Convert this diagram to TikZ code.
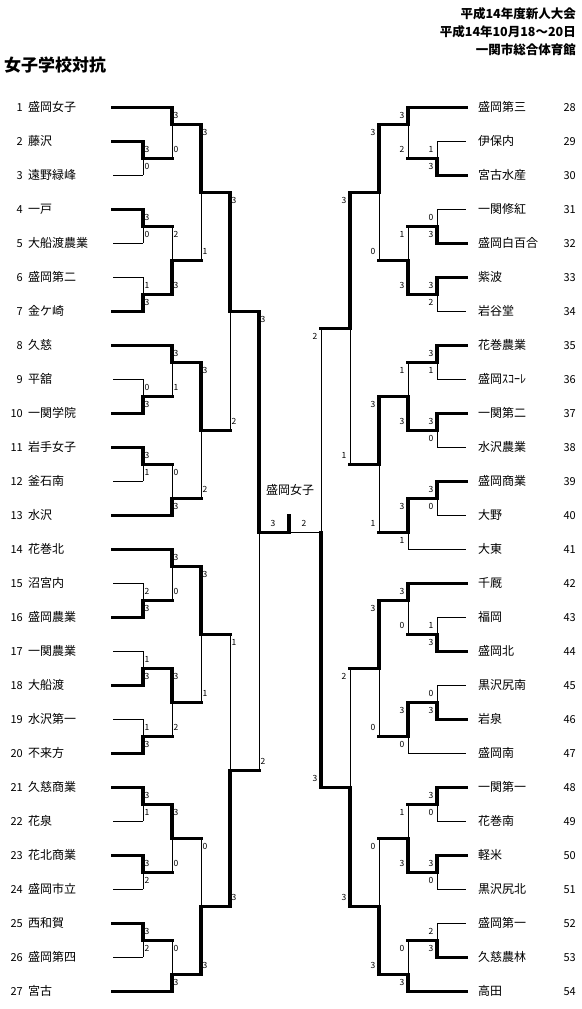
\documentclass[tikz,border=0pt]{standalone}
\usepackage{fontspec}
\setmainfont{Noto Sans CJK JP}
\usepackage{tikz}
\usetikzlibrary{positioning}
% one bout: column, top row, bottom row, out row, top score, bottom score
\newcommand{\bout}[6]{%
  \ifnum#5>#6\relax
    \draw[won] (#1,#2) -- (#1,#4);
    \draw[lost] (#1,#4) -- (#1,#3);
  \else
    \draw[lost] (#1,#2) -- (#1,#4);
    \draw[won] (#1,#4) -- (#1,#3);
  \fi}
\newcommand{\lbout}[6]{\bout{#1}{#2}{#3}{#4}{#5}{#6}%
  \draw[won] (#1,#4) -- ++(29,0);
  \node[pts] at (#1+4,#2+.5) {#5};
  \node[pts] at (#1+4,#3-.5) {#6};}
\newcommand{\rbout}[6]{\bout{#1}{#2}{#3}{#4}{#5}{#6}%
  \draw[won] (#1,#4) -- ++(-29,0);
  \node[pts] at (#1-6,#2+.5) {#5};
  \node[pts] at (#1-6,#3-.5) {#6};}

\begin{document}
\begin{tikzpicture}[x=1pt,y=-17pt,
      won/.style={line width=3.6pt,line cap=rect},
      lost/.style={line width=0.9pt},
      pts/.style={font=\fontsize{8.5}{8.5}\selectfont,inner sep=0pt},
      school/.style={font=\fontsize{12}{12}\selectfont,anchor=west,inner sep=0pt},
      entry/.style={font=\fontsize{11}{11}\selectfont,anchor=east,inner sep=0pt}]
    \useasboundingbox (0,0) rectangle (581,59.353);
    \node[anchor=west,inner sep=0pt,font=\bfseries\fontsize{17}{17}\selectfont](title) at (4,3.82){女子学校対抗};
    \node[anchor=east,inner sep=0pt,align=right,font=\bfseries\fontsize{12.5}{17.7}\selectfont](meet) at (576,1.86){%
      平成14年度新人大会\\
      平成14年10月18～20日\\
      一関市総合体育館};
    \begin{scope}[yshift=-107.3pt]
    % left half
    \foreach \k/\n/\e/\s in {1/盛岡女子/172/won,2/藤沢/143/won,3/遠野緑峰/143/lost,
        4/一戸/143/won,5/大船渡農業/143/lost,6/盛岡第二/143/lost,7/金ケ崎/143/won,
        8/久慈/172/won,9/平舘/143/lost,10/一関学院/143/won,11/岩手女子/143/won,
        12/釜石南/143/lost,13/水沢/172/won,14/花巻北/172/won,15/沼宮内/143/lost,
        16/盛岡農業/143/won,17/一関農業/143/lost,18/大船渡/143/won,19/水沢第一/143/lost,
        20/不来方/143/won,21/久慈商業/143/won,22/花泉/143/lost,23/花北商業/143/won,
        24/盛岡市立/143/lost,25/西和賀/143/won,26/盛岡第四/143/lost,27/宮古/172/won}{
      \node[entry](n\k) at (23,2*\k-2){\k};
      \node[school](t\k) at (28,2*\k-2){\n};
      \draw[\s] (113,2*\k-2) -- (\e,2*\k-2);
    }
    \lbout{143}{2}{4}{3}{3}{0}
    \lbout{143}{6}{8}{7}{3}{0}
    \lbout{143}{10}{12}{11}{1}{3}
    \lbout{143}{16}{18}{17}{0}{3}
    \lbout{143}{20}{22}{21}{3}{1}
    \lbout{143}{28}{30}{29}{2}{3}
    \lbout{143}{32}{34}{33}{1}{3}
    \lbout{143}{36}{38}{37}{1}{3}
    \lbout{143}{40}{42}{41}{3}{1}
    \lbout{143}{44}{46}{45}{3}{2}
    \lbout{143}{48}{50}{49}{3}{2}
    \lbout{172}{0}{3}{1}{3}{0}
    \lbout{172}{7}{11}{9}{2}{3}
    \lbout{172}{14}{17}{15}{3}{1}
    \lbout{172}{21}{24}{23}{0}{3}
    \lbout{172}{26}{29}{27}{3}{0}
    \lbout{172}{33}{37}{35}{3}{2}
    \lbout{172}{41}{45}{43}{3}{0}
    \lbout{172}{49}{52}{51}{0}{3}
    \lbout{201}{1}{9}{5}{3}{1}
    \lbout{201}{15}{23}{19}{3}{2}
    \lbout{201}{27}{35}{31}{3}{1}
    \lbout{201}{43}{51}{47}{0}{3}
    \lbout{230}{5}{19}{12}{3}{2}
    \lbout{230}{31}{47}{39}{1}{3}
    \bout{259}{12}{39}{25}{3}{2}
    \node[pts] at (263,12.5){3};
    \node[pts] at (263,38.5){2};
    % right half
    \foreach \k/\n/\e/\s in {28/盛岡第三/408/won,29/伊保内/437/lost,30/宮古水産/437/won,
        31/一関修紅/437/lost,32/盛岡白百合/437/won,33/紫波/437/won,34/岩谷堂/437/lost,
        35/花巻農業/437/won,36/盛岡ｽｺｰﾚ/437/lost,37/一関第二/437/won,38/水沢農業/437/lost,
        39/盛岡商業/437/won,40/大野/437/lost,41/大東/408/lost,42/千厩/408/won,
        43/福岡/437/lost,44/盛岡北/437/won,45/黒沢尻南/437/lost,46/岩泉/437/won,
        47/盛岡南/408/lost,48/一関第一/437/won,49/花巻南/437/lost,50/軽米/437/won,
        51/黒沢尻北/437/lost,52/盛岡第一/437/lost,53/久慈農林/437/won,54/高田/408/won}{
      \node[school](t\k) at (478,2*\k-56){\n};
      \node[entry](n\k) at (576,2*\k-56){\k};
      \draw[\s] (\e,2*\k-56) -- (466,2*\k-56);
    }
    \rbout{437}{2}{4}{3}{1}{3}
    \rbout{437}{6}{8}{7}{0}{3}
    \rbout{437}{10}{12}{11}{3}{2}
    \rbout{437}{14}{16}{15}{3}{1}
    \rbout{437}{18}{20}{19}{3}{0}
    \rbout{437}{22}{24}{23}{3}{0}
    \rbout{437}{30}{32}{31}{1}{3}
    \rbout{437}{34}{36}{35}{0}{3}
    \rbout{437}{40}{42}{41}{3}{0}
    \rbout{437}{44}{46}{45}{3}{0}
    \rbout{437}{48}{50}{49}{2}{3}
    \rbout{408}{0}{3}{1}{3}{2}
    \rbout{408}{7}{11}{9}{1}{3}
    \rbout{408}{15}{19}{17}{1}{3}
    \rbout{408}{23}{26}{25}{3}{1}
    \rbout{408}{28}{31}{29}{3}{0}
    \rbout{408}{35}{38}{37}{3}{0}
    \rbout{408}{41}{45}{43}{1}{3}
    \rbout{408}{49}{52}{51}{0}{3}
    \rbout{379}{1}{9}{5}{3}{0}
    \rbout{379}{17}{25}{21}{3}{1}
    \rbout{379}{29}{37}{33}{3}{0}
    \rbout{379}{43}{51}{47}{0}{3}
    \rbout{350}{5}{21}{13}{3}{1}
    \rbout{350}{33}{47}{40}{2}{3}
    \bout{321}{13}{40}{25}{2}{3}
    \node[pts] at (315,13.5){2};
    \node[pts] at (315,39.5){3};
    % final
    \draw[won] (259,25) -- (289,25) -- (289,24);
    \draw[lost] (289,25) -- (321,25);
    \node[pts] at (273,24.5){3};
    \node[pts] at (304,24.5){2};
    \node[school,anchor=center](champ) at (290,22.5){盛岡女子};
    \end{scope}
  \end{tikzpicture}
\end{document}
